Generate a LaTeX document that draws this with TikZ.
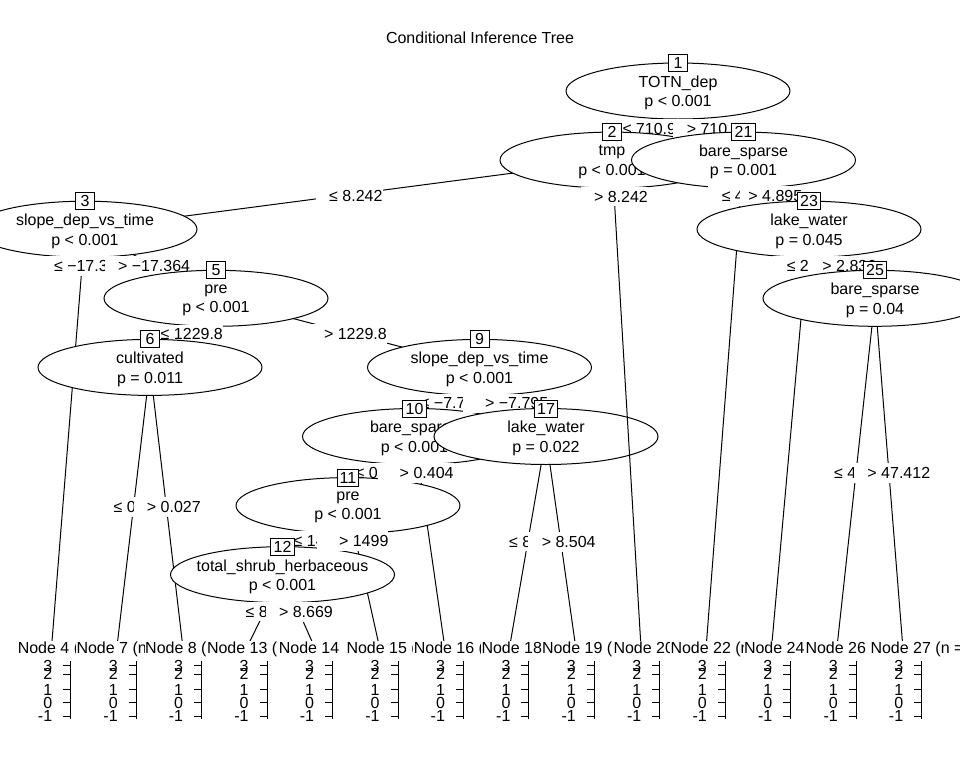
\documentclass[tikz,border=0pt]{standalone}
\usepackage{fontspec}
\setmainfont{Liberation Sans}
\usetikzlibrary{shapes.geometric}
\tikzset{
  splitell/.style={draw, fill=white, ellipse, minimum width=168pt, minimum height=42pt, inner sep=0pt},
  splittext/.style={align=center, inner sep=0pt},
  idbox/.style={draw, fill=white, minimum width=14.25pt, minimum height=12.75pt, inner xsep=2pt, inner ysep=0pt},
  edgelab/.style={fill=white, anchor=west, inner sep=0pt, minimum height=14.4pt},
  termbg/.style={fill=white, anchor=north west, inner sep=0pt, minimum width=49.1pt, minimum height=75pt},
  termlab/.style={anchor=west, inner sep=0pt},
  ticklab/.style={anchor=east, inner sep=0pt}
}
\newcommand{\splitnode}[3]{%
  \node[splitell] (n#1) at (c#1) {};
  \node[splittext] (n#1t) at ([yshift=-1.5pt]c#1) {#2\\#3};
  \node[idbox] (b#1) at ([yshift=21pt]c#1) {#1};
}
\begin{document}
\begin{tikzpicture}[x=0.75pt, y=-0.75pt, line width=0.75pt, font=\fontsize{12}{14.5}\selectfont]
    \path[use as bounding box, fill=white] (0,0) rectangle (960,768);
    \node (title) at (480,38) {Conditional Inference Tree};

    \coordinate (c1) at (678,91);
    \coordinate (c2) at (612,160.1);
    \coordinate (c21) at (743.5,160.1);
    \coordinate (c3) at (85,229.2);
    \coordinate (c23) at (809,229.2);
    \coordinate (c5) at (216,298.3);
    \coordinate (c25) at (875,298.3);
    \coordinate (c6) at (150,367.4);
    \coordinate (c9) at (479.5,367.4);
    \coordinate (c10) at (414.5,436.5);
    \coordinate (c17) at (546,436.5);
    \coordinate (c11) at (348,505.6);
    \coordinate (c12) at (282.5,574.7);
    \foreach \tn/\k in {4/0,7/1,8/2,13/3,14/4,15/5,16/6,18/7,19/8,20/9,22/10,24/11,26/12,27/13}
        \coordinate (t\tn) at ({51.7+65.46*\k},645);

    \foreach \a/\b in {c1/c2, c1/c21, c2/c3, c3/t4, c3/c5, c5/c6, c5/c9, c6/t7, c6/t8,
        c9/c10, c9/c17, c10/c11, c10/t16, c11/c12, c11/t15, c12/t13, c12/t14,
        c17/t18, c17/t19, c21/t22, c21/c23, c23/t24, c23/c25, c25/t26, c25/t27}
        \draw (\a) -- (\b);

    \splitnode{1}{TOTN\_dep}{p < 0.001}
    \node[edgelab] (e1a) at (608.9,129) {\phantom{0} ≤ 710.97};
    \splitnode{2}{tmp}{p < 0.001}
    \node[edgelab] (e2a) at (315.4,196) {\phantom{0} ≤ 8.242};
    \splitnode{3}{slope\_dep\_vs\_time}{p < 0.001}
    \node[edgelab] (e3a) at (40.2,266) {\phantom{0} ≤ −17.364};
    \node[edgelab] (e3b) at (104.2,266) {\phantom{0} > −17.364};
    \splitnode{5}{pre}{p < 0.001}
    \node[edgelab] (e5a) at (146.9,334.3) {\phantom{0} ≤ 1229.8};
    \splitnode{6}{cultivated}{p = 0.011}
    \node[edgelab] (e6a) at (99.9,507) {\phantom{0} ≤ 0.027};
    \node[edgelab] (e6b) at (133.1,507) {\phantom{0} > 0.027};
    \node[edgelab] (e5b) at (310.2,334) {\phantom{0} > 1229.8};
    \splitnode{9}{slope\_dep\_vs\_time}{p < 0.001}
    \node[edgelab] (e9a) at (406.9,403.3) {\phantom{0} ≤ −7.795};
    \splitnode{10}{bare\_sparse}{p < 0.001}
    \node[edgelab] (e10a) at (341.9,472.7) {\phantom{0} ≤ 0.404};
    \splitnode{11}{pre}{p < 0.001}
    \node[edgelab] (e11a) at (279.9,541) {\phantom{0} ≤ 1499};
    \splitnode{12}{total\_shrub\_herbaceous}{p < 0.001}
    \node[edgelab] (e12a) at (231.9,611.7) {\phantom{0} ≤ 8.669};
    \node[edgelab] (e12b) at (265.2,612) {\phantom{0} > 8.669};
    \node[edgelab] (e11b) at (316.3,541) {\phantom{00} > 1499};
    \node[edgelab] (e10b) at (377,473) {\phantom{00} > 0.404};
    \node[edgelab] (e9b) at (462.3,403.3) {\phantom{00} > −7.795};
    \splitnode{17}{lake\_water}{p = 0.022}
    \node[edgelab] (e17a) at (495.2,541.7) {\phantom{0} ≤ 8.504};
    \node[edgelab] (e17b) at (527.9,542) {\phantom{0} > 8.504};
    \draw (n2) -- (t20);
    \node[edgelab] (e2b) at (580.2,196.5) {\phantom{0} > 8.242};
    \node[edgelab] (e1b) at (672.9,129) {\phantom{0} > 710.97};
    \splitnode{21}{bare\_sparse}{p = 0.001}
    \node[edgelab] (e21a) at (707.9,196) {\phantom{0} ≤ 4.895};
    \node[edgelab] (e21b) at (739,196) {\phantom{0}> 4.895};
    \splitnode{23}{lake\_water}{p = 0.045}
    \node[edgelab] (e23a) at (772.9,266) {\phantom{0} ≤ 2.836};
    \node[edgelab] (e23b) at (808.6,266) {\phantom{0} > 2.836};
    \splitnode{25}{bare\_sparse}{p = 0.04}
    \node[edgelab] (e25a) at (820.2,472.7) {\phantom{0} ≤ 47.412};
    \node[edgelab] (e25b) at (853.6,473) {\phantom{0} > 47.412};

    \foreach \tn/\k/\s/\l in {4/0/17.3/16.8, 7/1/76/75.5, 8/2/144.7/144.2, 13/3/206.5/206,
        14/4/278.3/277.8, 15/5/346/341.5, 16/6/413.3/412.8, 18/7/481/480.5, 19/8/541.5/541,
        20/9/613/612.5, 22/10/670/669.5, 24/11/743.5/743, 26/12/805/804.5, 27/13/870/869.5} {
        \pgfmathsetmacro{\ax}{70.7+65.46*\k}
        \node[termbg] (r\tn) at (\l,640) {};
        \node[termlab] (m\tn) at (\s,649.5) {Node \tn\ (n =};
        \draw (\ax,661) -- (\ax,719);
        \foreach \v/\yy [count=\i] in {3/665.5,2/674,1/689.5,0/702.5,-1/716} {
            \draw (\ax,\yy) -- (\ax-7.5,\yy);
            \node[ticklab] (y\tn-\i) at (\ax-18,\yy) {\v};
        }
    }
\end{tikzpicture}
\end{document}
